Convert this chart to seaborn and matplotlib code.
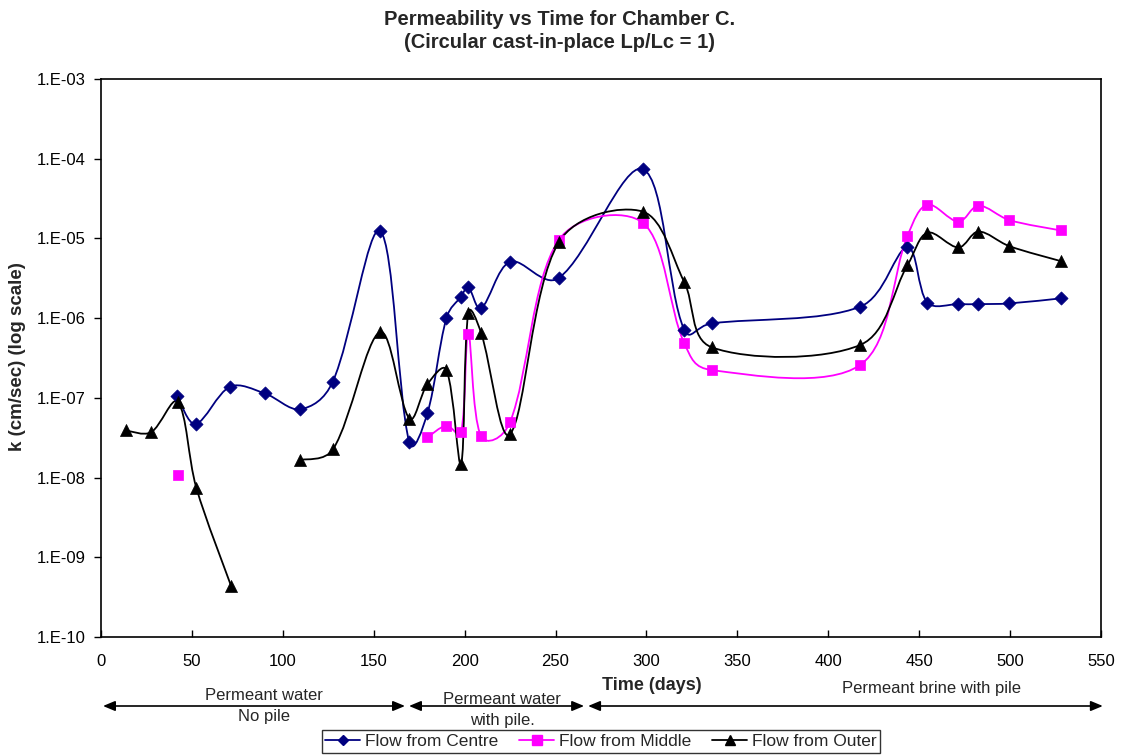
import numpy as np
import pandas as pd
import matplotlib
matplotlib.use("Agg")
import matplotlib.pyplot as plt
import seaborn as sns
from matplotlib.path import Path
from matplotlib.patches import PathPatch
from matplotlib.lines import Line2D
import matplotlib.transforms as mtransforms

# ---------------- data ----------------
centre_days = [42, 52, 71, 90, 109.5, 127.5, 153.5, 169.5, 179.5, 190, 198, 202, 209, 225, 251.7, 298, 320.7, 336, 417.5, 443.5, 454.5, 471.6, 482.6, 499.6, 527.8]
centre_k = [1.05e-7, 4.7e-8, 1.38e-7, 1.14e-7, 7.2e-8, 1.6e-7, 1.24e-5, 2.8e-8, 6.4e-8, 1.0e-6, 1.86e-6, 2.45e-6, 1.33e-6, 5.1e-6, 3.18e-6, 7.4e-5, 7.2e-7, 8.6e-7, 1.39e-6, 7.7e-6, 1.57e-6, 1.5e-6, 1.5e-6, 1.53e-6, 1.77e-6]

middle_single_day = [42.4]
middle_single_k = [1.09e-8]
middle_days = [179.5, 190, 198, 202, 209, 225, 251.7, 298, 320.7, 336, 417.5, 443.5, 454.5, 471.6, 482.6, 499.6, 527.8]
middle_k = [3.19e-8, 4.5e-8, 3.7e-8, 6.4e-7, 3.3e-8, 4.97e-8, 9.5e-6, 1.57e-5, 4.9e-7, 2.23e-7, 2.58e-7, 1.07e-5, 2.65e-5, 1.62e-5, 2.58e-5, 1.70e-5, 1.26e-5]

outer1_days = [13.6, 27.5, 42.2, 52.4, 71.5]
outer1_k = [3.9e-8, 3.7e-8, 8.9e-8, 7.5e-9, 4.4e-10]
outer2_days = [109.5, 127.8, 153.5, 169.6, 179.5, 190, 198, 202, 209, 225, 251.7, 298, 320.7, 336, 417.5, 443.5, 454.5, 471.6, 482.6, 499.6, 527.8]
outer2_k = [1.66e-8, 2.3e-8, 6.7e-7, 5.5e-8, 1.48e-7, 2.23e-7, 1.48e-8, 1.15e-6, 6.6e-7, 3.5e-8, 8.9e-6, 2.17e-5, 2.87e-6, 4.3e-7, 4.6e-7, 4.6e-6, 1.18e-5, 7.7e-6, 1.22e-5, 8.0e-6, 5.2e-6]

series_names = ["Flow from Centre", "Flow from Middle", "Flow from Outer"]
y_ticks = [1e-10, 1e-9, 1e-8, 1e-7, 1e-6, 1e-5, 1e-4, 1e-3]
y_tick_labels = ["1.E-10", "1.E-09", "1.E-08", "1.E-07", "1.E-06", "1.E-05", "1.E-04", "1.E-03"]
x_ticks = [0, 50, 100, 150, 200, 250, 300, 350, 400, 450, 500, 550]

phase_top = ["Permeant water", "Permeant water", "Permeant brine with pile"]
phase_bottom = ["No pile", "with pile.", ""]
phase_ranges = [(1.1, 167.2), (169.4, 265.7), (267.9, 551)]

# ---------------- style ----------------
sns.set_theme(style="white")
plt.rcParams["font.family"] = ["Liberation Sans", "DejaVu Sans"]

NAVY = "#000080"
MAGENTA = "#FF00FF"
BLACK = "#000000"

fig = plt.figure(figsize=(11.21, 7.55), dpi=100)
L, R, T, B = 101, 1101, 79, 637
W, H = 1121, 755
ax = fig.add_axes([L / W, 1 - B / H, (R - L) / W, (B - T) / H])
ax.set_yscale("log")
ax.set_xlim(0, 550)
ax.set_ylim(1e-10, 1e-3)

# pixel scale of the axes (used only to make the smoothing isotropic on screen)
SX = (R - L) / 550.0
SY = (B - T) / 7.0


def smooth_path(xs, ys, blend=0.35):
    """Smoothed line: cubic Bezier segments; tangents mix uniform and chord-weighted Catmull-Rom."""
    pts = np.column_stack([np.asarray(xs, float) * SX, np.log10(np.asarray(ys, float)) * SY])
    n = len(pts)
    verts = [pts[0]]
    codes = [Path.MOVETO]

    def arms(i):
        # returns (incoming arm, outgoing arm) vectors at point i
        if i == 0:
            v = (pts[1] - pts[0]) / 6.0
            return v, v
        if i == n - 1:
            v = (pts[-1] - pts[-2]) / 6.0
            return v, v
        d = pts[i + 1] - pts[i - 1]
        l0 = np.linalg.norm(pts[i] - pts[i - 1])
        l1 = np.linalg.norm(pts[i + 1] - pts[i])
        uni = d / 6.0
        out_c = d * (l1 / (l0 + l1)) / 3.0
        in_c = d * (l0 / (l0 + l1)) / 3.0
        return blend * uni + (1 - blend) * in_c, blend * uni + (1 - blend) * out_c

    for i in range(n - 1):
        p1, p2 = pts[i], pts[i + 1]
        _, out1 = arms(i)
        in2, _ = arms(i + 1)
        verts += [p1 + out1, p2 - in2, p2]
        codes += [Path.CURVE4] * 3
    verts = np.array(verts)
    verts[:, 0] = verts[:, 0] / SX
    verts[:, 1] = 10 ** (verts[:, 1] / SY)
    return Path(verts, codes)


def draw_line(xs, ys, color):
    patch = PathPatch(smooth_path(xs, ys), facecolor="none", edgecolor=color, lw=1.3, zorder=2)
    ax.add_patch(patch)


draw_line(centre_days, centre_k, NAVY)
draw_line(middle_days, middle_k, MAGENTA)
draw_line(outer1_days, outer1_k, BLACK)
draw_line(outer2_days, outer2_k, BLACK)

df_c = pd.DataFrame({"day": centre_days, "k": centre_k})
df_m = pd.DataFrame({"day": middle_single_day + middle_days, "k": middle_single_k + middle_k})
df_o = pd.DataFrame({"day": outer1_days + outer2_days, "k": outer1_k + outer2_k})

sns.scatterplot(data=df_c, x="day", y="k", ax=ax, marker="D", s=45, color=NAVY, edgecolor=NAVY, linewidth=0.5, zorder=3)
sns.scatterplot(data=df_m, x="day", y="k", ax=ax, marker="s", s=58, color=MAGENTA, edgecolor=MAGENTA, linewidth=0.5, zorder=3)
sns.scatterplot(data=df_o, x="day", y="k", ax=ax, marker="^", s=75, color=BLACK, edgecolor=BLACK, linewidth=0.5, zorder=4)

ax.set_xlim(0, 550)
ax.set_ylim(1e-10, 1e-3)
ax.set_yticks(y_ticks)
ax.set_yticklabels(y_tick_labels)
ax.yaxis.set_minor_locator(matplotlib.ticker.NullLocator())
ax.set_xticks(x_ticks)
ax.set_xticklabels([str(v) for v in x_ticks])
ax.tick_params(axis="y", direction="out", length=5, width=1, labelsize=12, pad=6, colors="black", left=True)
ax.tick_params(axis="x", direction="in", length=5, width=1, labelsize=12, pad=12, colors="black", bottom=True)
for s in ax.spines.values():
    s.set_visible(True)
    s.set_color("black")
    s.set_linewidth(1.2)
ax.grid(False)
ax.set_xlabel("")
ax.set_ylabel("")

# axis titles
fig.text(652 / W, 1 - 686 / H, "Time (days)", fontsize=13, fontweight="bold", ha="center", va="center")
fig.text(18 / W, 1 - 357 / H, "k (cm/sec) (log scale)", fontsize=13.5, fontweight="bold", ha="center", va="center", rotation=90)

# title
fig.text(560 / W, 1 - 31 / H, "Permeability vs Time for Chamber C.\n(Circular cast-in-place Lp/Lc = 1)",
         fontsize=14.5, fontweight="bold", ha="center", va="center", linespacing=1.28)

# phase annotations
trans = mtransforms.blended_transform_factory(ax.transData, fig.transFigure)
arrow_y = 1 - 706 / H
for (x0, x1) in phase_ranges:
    ax.annotate("", xy=(x1, arrow_y), xytext=(x0, arrow_y), xycoords=trans, textcoords=trans,
                arrowprops=dict(arrowstyle="<|-|>,head_length=0.6,head_width=0.25", color="black",
                                lw=1.2, shrinkA=0, shrinkB=0), annotation_clip=False)
label_pos = [(264, 695, 716), (502, 699, 720), (932, 688, None)]
for (cx, ytop, ybot), top, bot in zip(label_pos, phase_top, phase_bottom):
    fig.text(cx / W, 1 - ytop / H, top, fontsize=12, ha="center", va="center")
    if bot:
        fig.text(cx / W, 1 - ybot / H, bot, fontsize=12, ha="center", va="center")

# legend
handles = [
    Line2D([], [], color=NAVY, lw=1.3, marker="D", markersize=5.5, markerfacecolor=NAVY, markeredgecolor=NAVY),
    Line2D([], [], color=MAGENTA, lw=1.3, marker="s", markersize=6.5, markerfacecolor=MAGENTA, markeredgecolor=MAGENTA),
    Line2D([], [], color=BLACK, lw=1.3, marker="^", markersize=7, markerfacecolor=BLACK, markeredgecolor=BLACK),
]
leg = fig.legend(handles, series_names, loc="center", bbox_to_anchor=(601 / W, 1 - 741.5 / H), ncol=3,
                 fontsize=12.5, frameon=True, fancybox=False, edgecolor="black", handlelength=2.0,
                 handletextpad=0.3, columnspacing=1.2, borderpad=0.2, borderaxespad=0)
leg.get_frame().set_linewidth(1.0)

fig.savefig("out.png", dpi=100, facecolor="white")
